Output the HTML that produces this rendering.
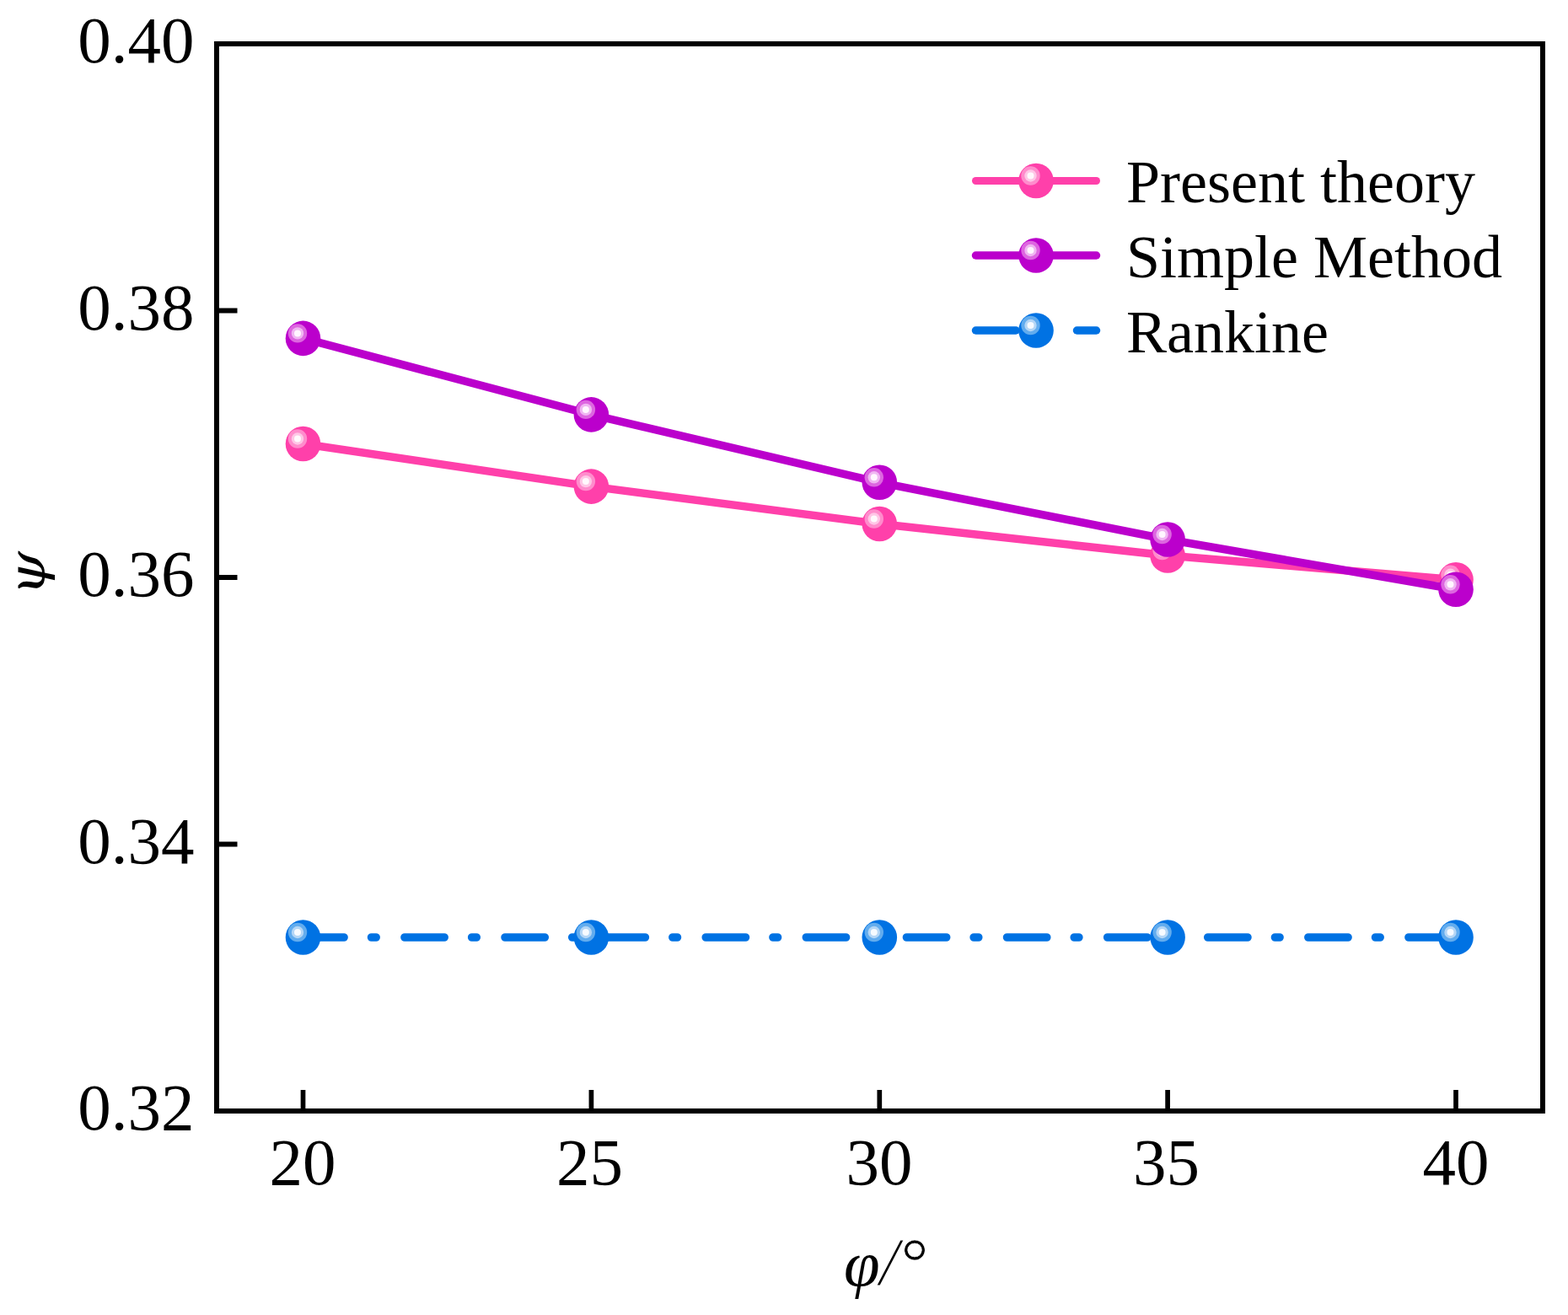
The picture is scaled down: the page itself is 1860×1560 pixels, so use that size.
<!DOCTYPE html>
<html>
<head>
<meta charset="utf-8">
<style>
html,body{margin:0;padding:0;background:#fff;}
body{width:1860px;height:1560px;overflow:hidden;}
svg{display:block;}
text{font-family:"Liberation Serif","Times New Roman",serif;fill:#000;}
.t{font-size:79px;}
.lg{font-size:72px;}
</style>
</head>
<body>
<svg width="1860" height="1560" viewBox="0 0 1860 1560">

<!-- frame -->
<rect x="257" y="52" width="1573" height="1266" fill="none" stroke="#000" stroke-width="6"/>
<!-- x ticks -->
<g stroke="#000" stroke-width="5.7">
  <line x1="359.5" y1="1318" x2="359.5" y2="1293"/>
  <line x1="701.4" y1="1318" x2="701.4" y2="1293"/>
  <line x1="1043.3" y1="1318" x2="1043.3" y2="1293"/>
  <line x1="1385.1" y1="1318" x2="1385.1" y2="1293"/>
  <line x1="1727" y1="1318" x2="1727" y2="1293"/>
</g>
<!-- y ticks -->
<g stroke="#000" stroke-width="6">
  <line x1="257" y1="368.5" x2="281.5" y2="368.5"/>
  <line x1="257" y1="685" x2="281.5" y2="685"/>
  <line x1="257" y1="1001.5" x2="281.5" y2="1001.5"/>
</g>

<!-- y tick labels -->
<g class="t" text-anchor="end">
  <text x="230.5" y="74">0.40</text>
  <text x="230.5" y="390.5">0.38</text>
  <text x="230.5" y="707">0.36</text>
  <text x="230.5" y="1023.5">0.34</text>
  <text x="230.5" y="1340">0.32</text>
</g>
<!-- x tick labels -->
<g class="t" text-anchor="middle">
  <text x="359" y="1405">20</text>
  <text x="699.5" y="1405">25</text>
  <text x="1043" y="1405">30</text>
  <text x="1383.5" y="1405">35</text>
  <text x="1727" y="1405">40</text>
</g>
<!-- axis titles -->
<text x="1001" y="1524.5" font-style="italic" font-size="77">φ<tspan font-size="81" dy="-0.8" stroke="#fff" stroke-width="1.1">/</tspan><tspan font-size="81" stroke="#fff" stroke-width="0.6">°</tspan></text>
<text transform="translate(53.4,706.8) rotate(-90) scale(1.12,1)" style="font-family:'DejaVu Serif',serif;font-style:italic;font-size:60px">ψ</text>

<!-- data lines -->
<polyline points="359.5,526.5 701.4,577.1 1043.3,621.5 1385.1,659 1727,687.8" fill="none" stroke="#FF40AA" stroke-width="9.5" stroke-linejoin="round" stroke-linecap="round"/>
<g transform="translate(359.5,526.5)"><circle cx="0" cy="0" r="20.8" fill="#FF40AA"/><circle cx="-6.5" cy="-6" r="11.2" fill="#FF8CCC"/><circle cx="-6.5" cy="-6" r="7.2" fill="#FFC6E6"/><circle cx="-6.5" cy="-6" r="4" fill="#FFF8FC"/></g>
<g transform="translate(701.4,577.1)"><circle cx="0" cy="0" r="20.8" fill="#FF40AA"/><circle cx="-6.5" cy="-6" r="11.2" fill="#FF8CCC"/><circle cx="-6.5" cy="-6" r="7.2" fill="#FFC6E6"/><circle cx="-6.5" cy="-6" r="4" fill="#FFF8FC"/></g>
<g transform="translate(1043.3,621.5)"><circle cx="0" cy="0" r="20.8" fill="#FF40AA"/><circle cx="-6.5" cy="-6" r="11.2" fill="#FF8CCC"/><circle cx="-6.5" cy="-6" r="7.2" fill="#FFC6E6"/><circle cx="-6.5" cy="-6" r="4" fill="#FFF8FC"/></g>
<g transform="translate(1385.1,659)"><circle cx="0" cy="0" r="20.8" fill="#FF40AA"/><circle cx="-6.5" cy="-6" r="11.2" fill="#FF8CCC"/><circle cx="-6.5" cy="-6" r="7.2" fill="#FFC6E6"/><circle cx="-6.5" cy="-6" r="4" fill="#FFF8FC"/></g>
<g transform="translate(1727,687.8)"><circle cx="0" cy="0" r="20.8" fill="#FF40AA"/><circle cx="-6.5" cy="-6" r="11.2" fill="#FF8CCC"/><circle cx="-6.5" cy="-6" r="7.2" fill="#FFC6E6"/><circle cx="-6.5" cy="-6" r="4" fill="#FFF8FC"/></g>

<polyline points="359.5,401.4 701.4,491.9 1043.3,572.3 1385.1,640 1727,699.3" fill="none" stroke="#BB00CC" stroke-width="9.5" stroke-linejoin="round" stroke-linecap="round"/>
<g transform="translate(359.5,401.4)"><circle cx="0" cy="0" r="20.8" fill="#BB00CC"/><circle cx="-6.5" cy="-6" r="11.2" fill="#DD66E0"/><circle cx="-6.5" cy="-6" r="7.2" fill="#F0B6F2"/><circle cx="-6.5" cy="-6" r="4" fill="#FFF6FF"/></g>
<g transform="translate(701.4,491.9)"><circle cx="0" cy="0" r="20.8" fill="#BB00CC"/><circle cx="-6.5" cy="-6" r="11.2" fill="#DD66E0"/><circle cx="-6.5" cy="-6" r="7.2" fill="#F0B6F2"/><circle cx="-6.5" cy="-6" r="4" fill="#FFF6FF"/></g>
<g transform="translate(1043.3,572.3)"><circle cx="0" cy="0" r="20.8" fill="#BB00CC"/><circle cx="-6.5" cy="-6" r="11.2" fill="#DD66E0"/><circle cx="-6.5" cy="-6" r="7.2" fill="#F0B6F2"/><circle cx="-6.5" cy="-6" r="4" fill="#FFF6FF"/></g>
<g transform="translate(1385.1,640)"><circle cx="0" cy="0" r="20.8" fill="#BB00CC"/><circle cx="-6.5" cy="-6" r="11.2" fill="#DD66E0"/><circle cx="-6.5" cy="-6" r="7.2" fill="#F0B6F2"/><circle cx="-6.5" cy="-6" r="4" fill="#FFF6FF"/></g>
<g transform="translate(1727,699.3)"><circle cx="0" cy="0" r="20.8" fill="#BB00CC"/><circle cx="-6.5" cy="-6" r="11.2" fill="#DD66E0"/><circle cx="-6.5" cy="-6" r="7.2" fill="#F0B6F2"/><circle cx="-6.5" cy="-6" r="4" fill="#FFF6FF"/></g>

<line x1="359.5" y1="1112" x2="1727" y2="1112" stroke="#0072E3" stroke-width="9.6" stroke-linecap="round" stroke-dasharray="47.2 32.5 5.6 33.8" stroke-dashoffset="-1.35"/>
<g transform="translate(359.5,1112)"><circle cx="0" cy="0" r="20.8" fill="#0072E3"/><circle cx="-6.5" cy="-6" r="11.2" fill="#62ACEE"/><circle cx="-6.5" cy="-6" r="7.2" fill="#B4D6F6"/><circle cx="-6.5" cy="-6" r="4" fill="#F6FAFF"/></g>
<g transform="translate(701.4,1112)"><circle cx="0" cy="0" r="20.8" fill="#0072E3"/><circle cx="-6.5" cy="-6" r="11.2" fill="#62ACEE"/><circle cx="-6.5" cy="-6" r="7.2" fill="#B4D6F6"/><circle cx="-6.5" cy="-6" r="4" fill="#F6FAFF"/></g>
<g transform="translate(1043.3,1112)"><circle cx="0" cy="0" r="20.8" fill="#0072E3"/><circle cx="-6.5" cy="-6" r="11.2" fill="#62ACEE"/><circle cx="-6.5" cy="-6" r="7.2" fill="#B4D6F6"/><circle cx="-6.5" cy="-6" r="4" fill="#F6FAFF"/></g>
<g transform="translate(1385.1,1112)"><circle cx="0" cy="0" r="20.8" fill="#0072E3"/><circle cx="-6.5" cy="-6" r="11.2" fill="#62ACEE"/><circle cx="-6.5" cy="-6" r="7.2" fill="#B4D6F6"/><circle cx="-6.5" cy="-6" r="4" fill="#F6FAFF"/></g>
<g transform="translate(1727,1112)"><circle cx="0" cy="0" r="20.8" fill="#0072E3"/><circle cx="-6.5" cy="-6" r="11.2" fill="#62ACEE"/><circle cx="-6.5" cy="-6" r="7.2" fill="#B4D6F6"/><circle cx="-6.5" cy="-6" r="4" fill="#F6FAFF"/></g>

<!-- legend -->
<line x1="1157.5" y1="214.5" x2="1300.5" y2="214.5" stroke="#FF40AA" stroke-width="9" stroke-linecap="round"/>
<g transform="translate(1229,214.5)"><circle cx="0" cy="0" r="20.8" fill="#FF40AA"/><circle cx="-6.5" cy="-6" r="11.2" fill="#FF8CCC"/><circle cx="-6.5" cy="-6" r="7.2" fill="#FFC6E6"/><circle cx="-6.5" cy="-6" r="4" fill="#FFF8FC"/></g>
<text class="lg" x="1336" y="240">Present theory</text>

<line x1="1157.5" y1="303" x2="1300.5" y2="303" stroke="#BB00CC" stroke-width="9.5" stroke-linecap="round"/>
<g transform="translate(1229,303)"><circle cx="0" cy="0" r="20.8" fill="#BB00CC"/><circle cx="-6.5" cy="-6" r="11.2" fill="#DD66E0"/><circle cx="-6.5" cy="-6" r="7.2" fill="#F0B6F2"/><circle cx="-6.5" cy="-6" r="4" fill="#FFF6FF"/></g>
<text class="lg" x="1336" y="328.8">Simple Method</text>

<line x1="1157.5" y1="392" x2="1205" y2="392" stroke="#0072E3" stroke-width="9.5" stroke-linecap="round"/>
<line x1="1277.5" y1="392" x2="1300.5" y2="392" stroke="#0072E3" stroke-width="9.5" stroke-linecap="round"/>
<g transform="translate(1229,392)"><circle cx="0" cy="0" r="20.8" fill="#0072E3"/><circle cx="-6.5" cy="-6" r="11.2" fill="#62ACEE"/><circle cx="-6.5" cy="-6" r="7.2" fill="#B4D6F6"/><circle cx="-6.5" cy="-6" r="4" fill="#F6FAFF"/></g>
<text class="lg" x="1336" y="417.5">Rankine</text>
</svg>
</body>
</html>
